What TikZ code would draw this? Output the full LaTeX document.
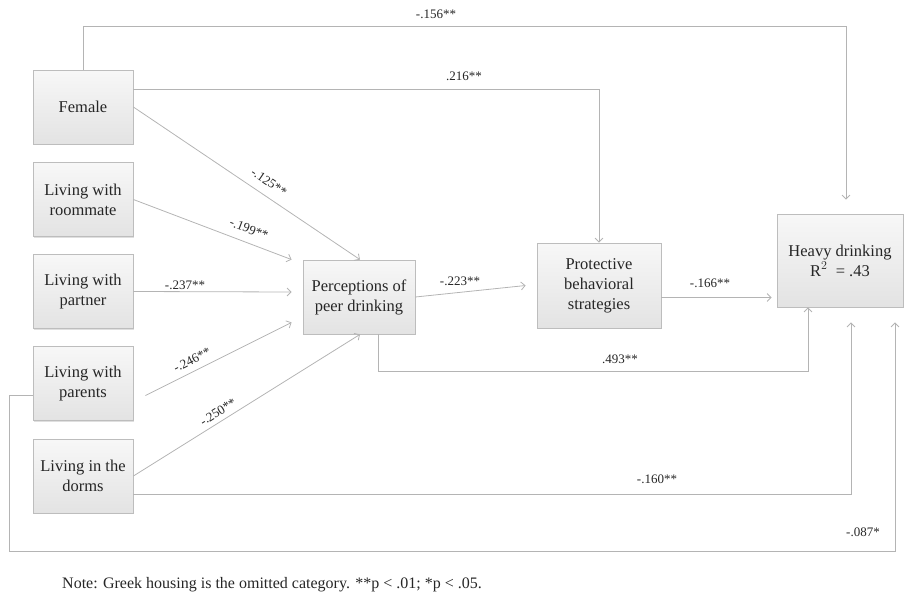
\documentclass[tikz,border=0pt]{standalone}
\usepackage{fontspec}
\setmainfont{Liberation Serif}
\usetikzlibrary{arrows.meta,calc,shadows}
\definecolor{txt}{HTML}{262626}
\definecolor{ln}{HTML}{B4B4B4}
\definecolor{bd}{HTML}{BDBDBD}
\tikzset{
  varbox/.style={draw=bd, line width=0.8pt, top color=gray!6, bottom color=gray!22,
    inner sep=0pt, align=center, text=txt, font=\fontsize{16.5}{20}\selectfont,
    drop shadow={shadow xshift=1.2pt, shadow yshift=-1.2pt, opacity=0.25}},
  conn/.style={draw=ln, line width=0.8pt},
  arr/.style={conn, -{Straight Barb[length=4pt,width=8pt]}},
  lab/.style={text=txt, font=\fontsize{13}{15}\selectfont, inner sep=0pt}
}
\begin{document}
\begin{tikzpicture}[x=1pt,y=-1pt]
\useasboundingbox (0,0) rectangle (904,594);
% boxes
\node[varbox, minimum width=100, minimum height=74] (female) at (83,107) {Female};
\node[varbox, minimum width=100, minimum height=74] (room) at (83,199.5) {Living with\\roommate};
\node[varbox, minimum width=100, minimum height=74] (partner) at (83,291.5) {Living with\\partner};
\node[varbox, minimum width=100, minimum height=74] (parents) at (83,383.5) {Living with\\parents};
\node[varbox, minimum width=100, minimum height=74] (dorms) at (83,476) {Living in the\\dorms};
\node[varbox, minimum width=112, minimum height=74] (perc) at (359,297) {Perceptions of\\peer drinking};
\node[varbox, minimum width=124, minimum height=85] (prot) at (599,285.5) {Protective\\behavioral\\strategies};
\node[varbox, minimum width=126, minimum height=93] (heavy) at (840,260.5) {Heavy drinking\\R$^{2}$\ \ = .43};
% connectors
\draw[arr] (female.north) -- ++(0,-43) -| ($(heavy.north)+(6,-14)$);
\node[lab] (l156) at (436,14) {-.156**};
\draw[arr] ($(female.east)+(0,-18)$) -| (prot.north);
\node[lab] (l216) at (464,76) {.216**};
\draw[arr] (female.east) -- ($(perc.north)+(1,0)$);
\node[lab, rotate=-34] (l125) at (269,182) {-.125**};
\draw[arr] (room.east) -- ($(perc.north west)+(-11,0)$);
\node[lab, rotate=-21] (l199) at (249,229) {-.199**};
\draw[arr] (partner.east) -- ($(perc.west)+(-11,-5)$);
\node[lab] (l237) at (185,285) {-.237**};
\coordinate (pstart) at ($(parents.east)+(12,12)$);
\draw[arr] (pstart) -- ($(perc.south west)+(-11,-12)$);
\node[lab, rotate=27] (l246) at (192,360) {-.246**};
\draw[arr] (dorms.east) -- ($(perc.south)+(1,0)$);
\node[lab, rotate=32] (l250) at (218,412) {-.250**};
\draw[arr] (perc.east) -- ($(prot.west)+(-11,0)$);
\node[lab] (l223) at (460,281) {-.223**};
\draw[arr] ($(prot.east)+(0,12)$) -- ($(heavy.west |- prot.east)+(-5,12)$);
\node[lab] (l166) at (710,283) {-.166**};
\draw[arr] ($(perc.south)+(19,0)$) -- ++(0,37) -| ($(heavy.south)+(-32,0)$);
\node[lab] (l493) at (620,359) {.493**};
\draw[arr] ($(dorms.east)+(0,18)$) -| ($(heavy.south)+(11,15)$);
\node[lab] (l160) at (657,479) {-.160**};
\draw[arr] ($(parents.west)+(0,12)$) -- (9,395.5) -- (9,551) -| ($(heavy.south)+(55,15)$);
\node[lab] (l087) at (863,532) {-.087*};
% note
\node[text=txt, font=\fontsize{16}{18}\selectfont, anchor=west, inner sep=0pt] (note) at (62,585)
  {Note: Greek housing is the omitted category. **p < .01; *p < .05.};
\end{tikzpicture}
\end{document}
